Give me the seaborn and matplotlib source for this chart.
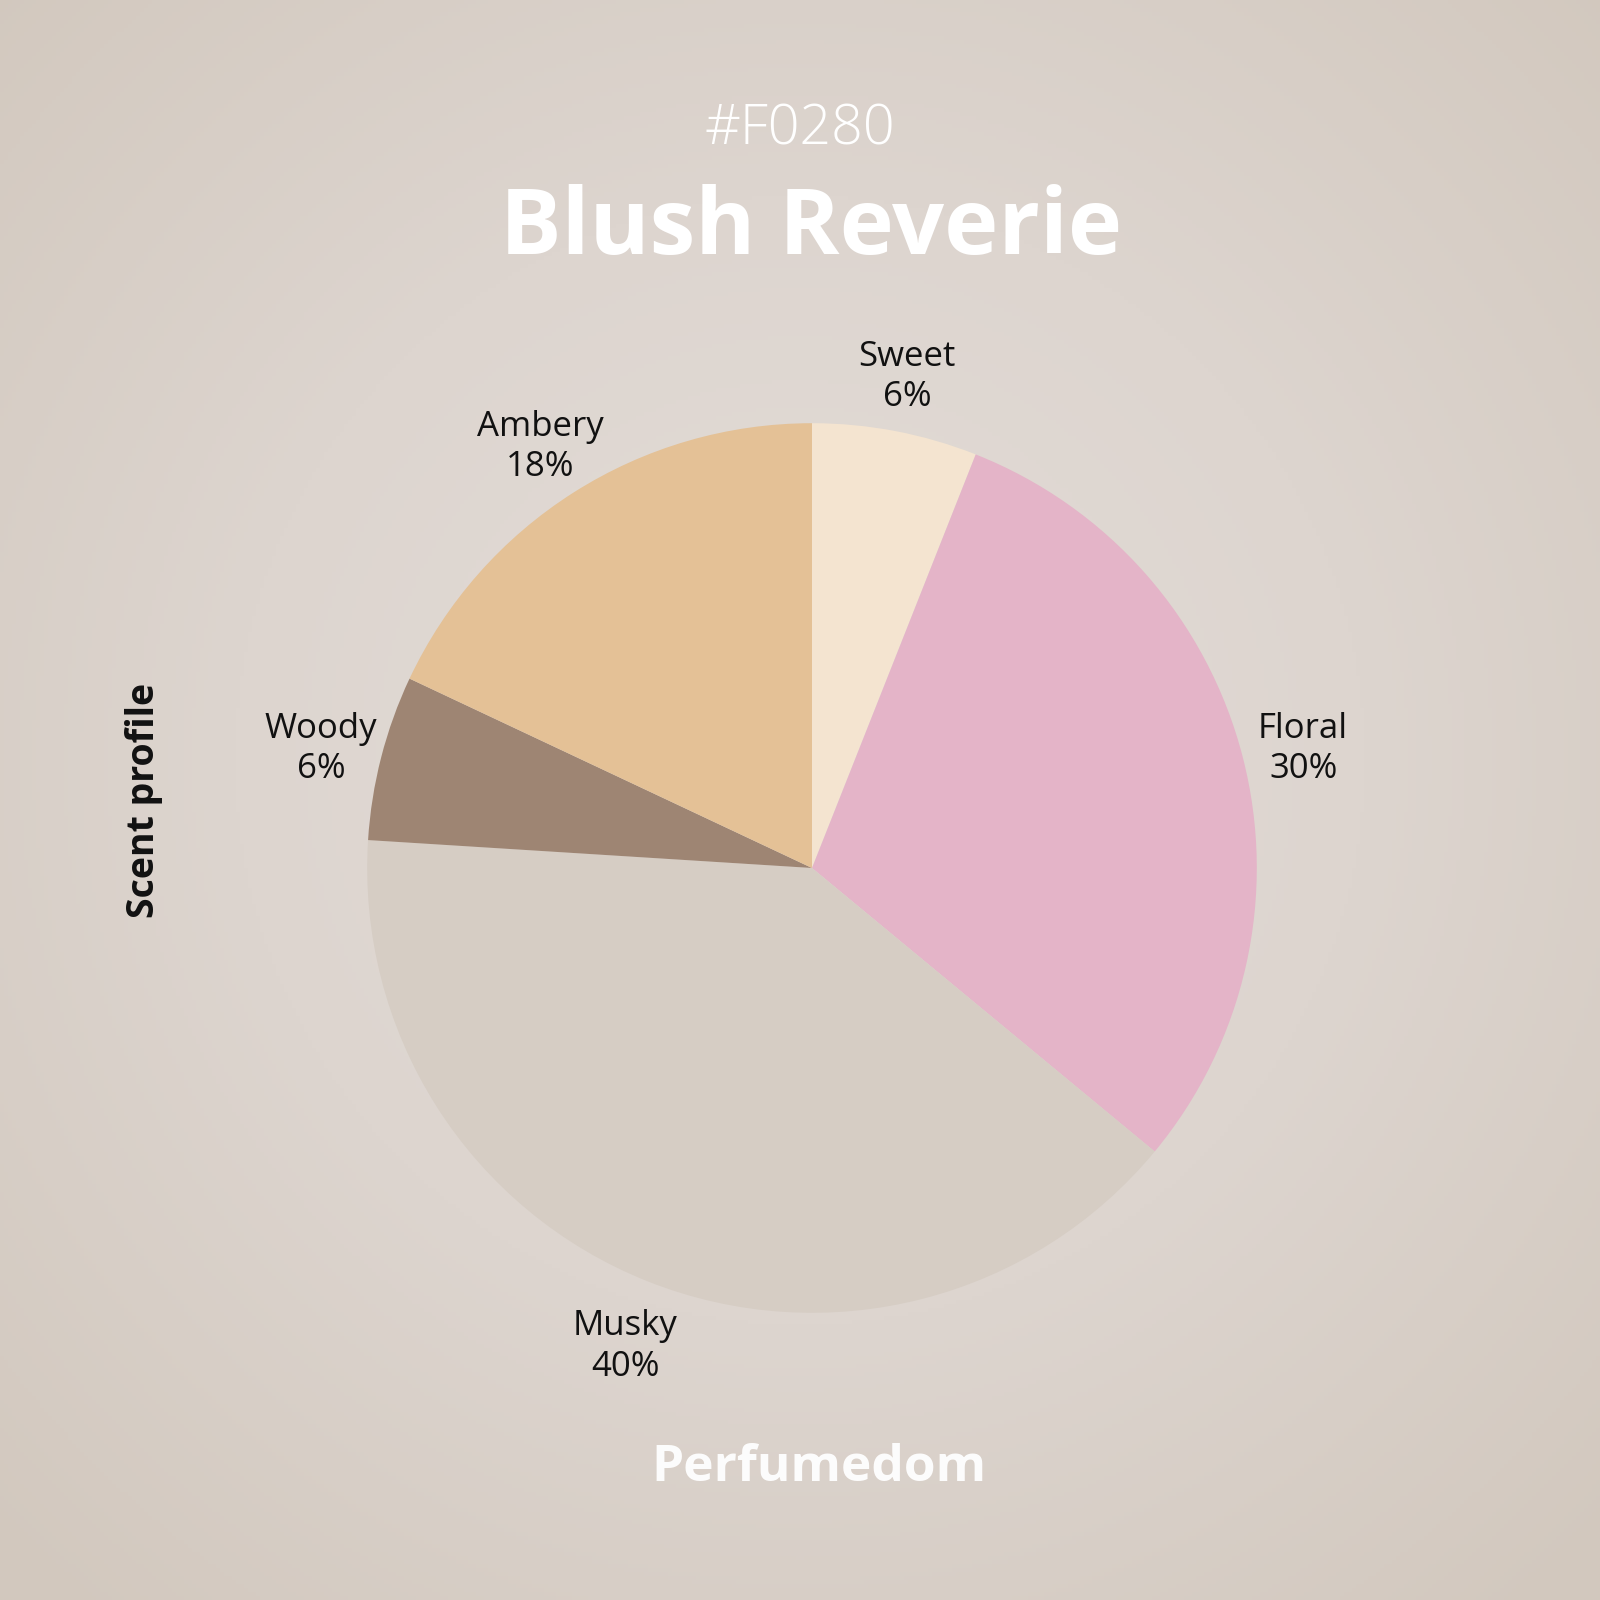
import numpy as np
import matplotlib.pyplot as plt
import seaborn as sns
from matplotlib.colors import LinearSegmentedColormap

# chart data
notes = ["Sweet", "Floral", "Musky", "Woody", "Ambery"]
shares = [6, 30, 40, 6, 18]
colors = ["#f4e4d0", "#e4b4c8", "#d6cdc4", "#9e8573", "#e4c196"]

code = "#F0280"
title = "Blush Reverie"
side_label = "Scent profile"
brand = "Perfumedom"

sns.set_theme(style="white")
plt.rcParams["font.family"] = ["Open Sans", "DejaVu Sans"]

fig = plt.figure(figsize=(16, 16), dpi=100)

# radial background
bg = fig.add_axes([0, 0, 1, 1])
yy, xx = np.mgrid[-1:1:400j, -1:1:400j]
dist = np.sqrt(xx ** 2 + (yy + 0.05) ** 2) / np.sqrt(2)
cmap = LinearSegmentedColormap.from_list("bg", ["#e3ddd8", "#ddd5cf", "#d2c8be"])
bg.imshow(dist, cmap=cmap, extent=[0, 1, 0, 1], aspect="auto", vmin=0, vmax=1)
bg.axis("off")

# pie
cx, cy, size = 0.5075, 0.4575, 0.556
ax = fig.add_axes([cx - size / 2, cy - size / 2, size, size])
labels = [f"{n}\n{s}%" for n, s in zip(notes, shares)]
wedges, texts = ax.pie(shares, colors=colors, startangle=90, counterclock=False,
                       labels=labels, labeldistance=1.14,
                       wedgeprops=dict(linewidth=0),
                       textprops=dict(fontsize=25, color="#111111",
                                      linespacing=1.25))
for t in texts:
    t.set_ha("center")
    t.set_va("center")
    t.set_y(t.get_position()[1] - 0.016)
ax.set_xlim(-1, 1)
ax.set_ylim(-1, 1)
ax.set_aspect("equal")
ax.axis("off")

fig.text(0.5, 0.919, code, ha="center", va="center", fontsize=40,
         color="white", fontweight="light")
fig.text(0.507, 0.856, title, ha="center", va="center", fontsize=66,
         color="white", fontweight="bold")
fig.text(0.09, 0.5, side_label, ha="center", va="center", rotation=90,
         fontsize=27, fontweight="bold", color="#111111")
fig.text(0.512, 0.0825, brand, ha="center", va="center", fontsize=37,
         color="white", fontweight="bold", alpha=0.95)

fig.savefig("out.png", dpi=100)
